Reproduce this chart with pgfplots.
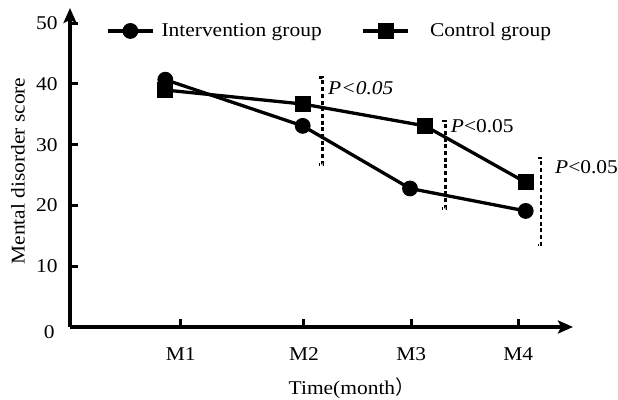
\documentclass[border=0pt]{standalone}
\usepackage{fontspec}
\setmainfont{Liberation Serif}[FakeStretch=1.1]
\newfontfamily\cjk{Noto Sans CJK SC}
\usepackage{pgfplots}
\pgfplotsset{compat=1.18}
\usetikzlibrary{arrows.meta}
\newcommand\fs{\fontsize{19.5bp}{22bp}\selectfont}

\begin{document}
\begin{tikzpicture}
\useasboundingbox (0,0) rectangle (618bp,400bp);
\begin{axis}[
  at={(70bp,73bp)}, anchor=south west,
  scale only axis, width=503bp, height=319bp,
  xmin=0, xmax=503, ymin=0, ymax=52.5,
  clip=false,
  axis lines=left,
  axis line style={line width=3bp, -{Stealth[length=15bp,width=13bp,inset=3bp]}},
  tick align=inside,
  major tick length=8bp,
  major tick style={draw=black, line width=3bp},
  /pgf/number format/assume math mode=true,
  tick label style={font=\fs},
  label style={font=\fs},
  xtick={110.7,233.9,341.2,448.2},
  xticklabels={M1,M2,M3,M4},
  xticklabel style={anchor=center, yshift=-27bp},
  ytick={10,20,30,40,50},
  yticklabel style={anchor=east, xshift=-9bp},
  extra y ticks={0},
  extra y tick style={yticklabel style={xshift=-3bp, yshift=-5bp}},
  xlabel={Time(month{\cjk ）}},
  xlabel style={at={(axis description cs:0.56,-0.191)}, anchor=center},
  ylabel={Mental disorder score},
  ylabel style={at={(axis description cs:-0.1034,0.489)}, anchor=center},
  legend columns=2,
  legend style={at={(axis description cs:0.0716,0.928)}, anchor=west,
    draw=none, fill=none, inner sep=0pt, font=\fs,
    nodes={inner sep=0pt},
    /tikz/every odd column/.append style={column sep=7bp},
    /tikz/every even column/.append style={column sep=40bp}},
  legend cell align=left,
  legend image code/.code={\draw[mark repeat=2,mark phase=2,#1] plot coordinates {(0bp,0bp) (22.5bp,0bp) (45bp,0bp)};},
]
% intervention group
\addplot[black, line width=3.3bp, mark=*, mark size=7.4bp, mark options={line width=1bp}]
  coordinates {(95.3,40.7) (232.7,33.1) (340,22.8) (455.7,19.1)};
% control group
\addplot[black, line width=3.3bp, mark=square*, mark size=7.4bp, mark options={line width=1bp}]
  coordinates {(95.3,39.0) (232.7,36.7) (355,33.1) (455.7,23.8)};
\legend{Intervention group, \hspace{13bp}Control group}

% significance brackets
\addplot[black, line width=2.6bp, dash pattern=on 4bp off 2.7bp, forget plot]
  coordinates {(249.2,41.1) (252.7,41.1) (252.7,26.7) (249.2,26.7)};
\addplot[black, line width=2.6bp, dash pattern=on 4bp off 2.7bp, forget plot]
  coordinates {(372.2,33.9) (375.7,33.9) (375.7,19.5) (372.2,19.5)};
\addplot[black, line width=2.6bp, dash pattern=on 4bp off 2.7bp, forget plot]
  coordinates {(467.5,27.8) (471,27.8) (471,13.5) (467.5,13.5)};

\node[anchor=base west, inner sep=0pt, font=\fs] at (axis cs:258,38.2) {\textit{P<0.05}};
\node[anchor=base west, inner sep=0pt, font=\fs] at (axis cs:380.7,32.0) {\textit{P}<0.05};
\node[anchor=base west, inner sep=0pt, font=\fs] at (axis cs:485,25.2) {\textit{P}<0.05};
\end{axis}
\end{tikzpicture}
\end{document}
